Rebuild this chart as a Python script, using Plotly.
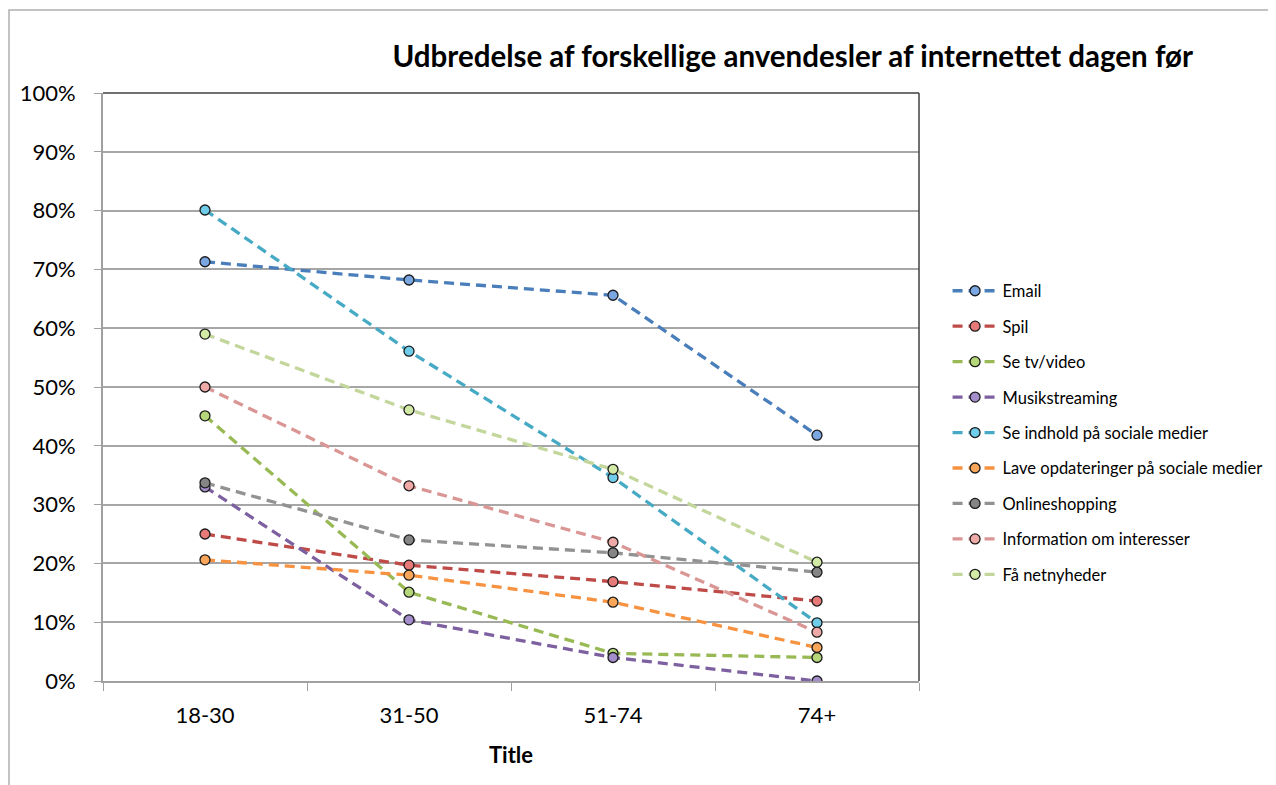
import plotly.graph_objects as go

categories = ["18-30", "31-50", "51-74", "74+"]

series_names = [
    "Email",
    "Spil",
    "Se tv/video",
    "Musikstreaming",
    "Se indhold på sociale medier",
    "Lave opdateringer på sociale medier",
    "Onlineshopping",
    "Information om interesser",
    "Få netnyheder",
]

email = [71.3, 68.2, 65.6, 41.8]
spil = [25.0, 19.7, 16.9, 13.6]
se_tv = [45.1, 15.1, 4.7, 4.0]
musik = [33.0, 10.4, 4.0, 0.0]
se_indhold = [80.1, 56.1, 34.6, 9.9]
lave = [20.6, 18.0, 13.4, 5.7]
online = [33.7, 24.0, 21.8, 18.5]
information = [50.0, 33.2, 23.6, 8.3]
netnyheder = [59.0, 46.1, 36.0, 20.2]

values = [email, spil, se_tv, musik, se_indhold, lave, online, information, netnyheder]

line_colors = ["#4A7EBB", "#BE4B48", "#98B954", "#7D60A0", "#46AAC5",
               "#F69240", "#929292", "#D99694", "#C3D69B"]
fill_colors = ["#7AA6E2", "#E57A78", "#B5D77A", "#A48DCB", "#6FCDEA",
               "#F9A65A", "#858585", "#EFA9A7", "#D2EAA6"]

fig = go.Figure()
for i, (name, vals) in enumerate(zip(series_names, values)):
    fig.add_trace(go.Scatter(
        x=categories,
        y=[v / 100 for v in vals],
        name=name,
        mode="lines+markers",
        legendgroup=f"g{i}",
        line=dict(color=line_colors[i], width=3.3, dash="10px,6px"),
        marker=dict(size=10, color=fill_colors[i], line=dict(color="#1a1a1a", width=1.3)),
    ))

L, T = 95, 85
PW, PH = 816, 588

fig.update_layout(
    width=1276,
    height=785,
    margin=dict(l=L, r=1276 - L - PW, t=T, b=785 - T - PH),
    paper_bgcolor="white",
    plot_bgcolor="white",
    font=dict(family="Lato", color="#000000"),
    title=dict(
        text="<b>Udbredelse af forskellige anvendesler af internettet dagen før</b>",
        x=0.615, xanchor="center",
        y=0.9376, yanchor="middle",
        font=dict(size=29.5, family="Lato", color="#000000"),
    ),
    showlegend=True,
    legend=dict(
        x=1.035, xanchor="left",
        y=0.693, yanchor="top",
        font=dict(size=16.5, family="Lato", color="#000000"),
        tracegroupgap=11,
        itemwidth=45,
        bgcolor="rgba(0,0,0,0)",
    ),
    xaxis=dict(
        type="category",
        range=[-0.5, 3.5],
        tickson="boundaries",
        ticks="outside",
        ticklen=8,
        tickcolor="#A0A0A0",
        showline=True,
        linecolor="#A0A0A0",
        linewidth=2,
        showgrid=False,
        tickfont=dict(size=22, family="Lato"),
        ticklabelstandoff=14,
        title=dict(text="<b>Title</b>", font=dict(size=22, family="Lato"), standoff=20),
    ),
    yaxis=dict(
        range=[0, 1],
        tickvals=[i / 10 for i in range(11)],
        tickformat=".0%",
        ticks="outside",
        ticklen=7,
        tickcolor="#A0A0A0",
        showline=True,
        linecolor="#A0A0A0",
        linewidth=2,
        showgrid=True,
        gridcolor="#A6A6A6",
        gridwidth=1.5,
        zeroline=False,
        tickfont=dict(size=22, family="Lato"),
        ticklabelstandoff=14,
    ),
    shapes=[
        dict(type="line", xref="paper", yref="paper", x0=0, x1=1, y0=1, y1=1,
             line=dict(color="#404040", width=1.5)),
        dict(type="line", xref="paper", yref="paper", x0=1, x1=1, y0=0, y1=1,
             line=dict(color="#404040", width=1.5)),
        dict(type="rect", xref="paper", yref="paper",
             x0=(1 - L) / PW, x1=(1320 - L) / PW,
             y0=(T + PH - 820) / PH, y1=(T + PH - 2) / PH,
             line=dict(color="#B0B0B0", width=1.5), layer="below"),
    ],
)

fig.write_html("out.html")
